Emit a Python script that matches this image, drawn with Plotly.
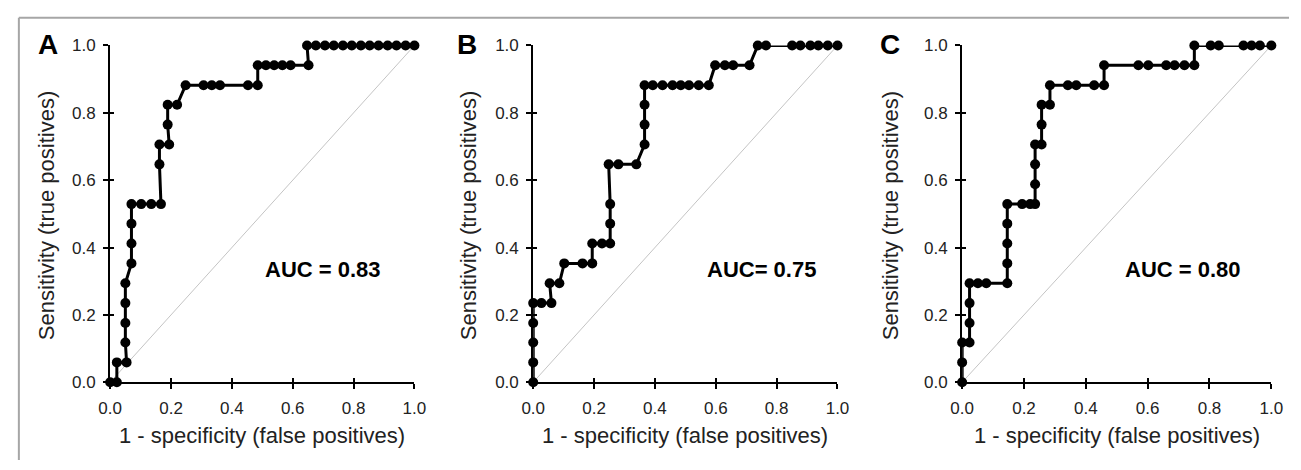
import plotly.graph_objects as go

# ---------------- data ----------------
panel_labels = ["A", "B", "C"]
auc_texts = ["AUC = 0.83", "AUC= 0.75", "AUC = 0.80"]
tick_vals = [0.0, 0.2, 0.4, 0.6, 0.8, 1.0]
tick_text = ["0.0", "0.2", "0.4", "0.6", "0.8", "1.0"]
x_title = "1 - specificity (false positives)"
y_title = "Sensitivity (true positives)"

a_fpr = [0.0, 0.022, 0.022, 0.054, 0.05, 0.05, 0.05, 0.05, 0.07, 0.07, 0.07, 0.07,
         0.102, 0.135, 0.167, 0.162, 0.162, 0.194, 0.189, 0.189, 0.22, 0.248, 0.307, 0.334,
         0.361, 0.453, 0.485, 0.485, 0.512, 0.539, 0.566, 0.593, 0.652, 0.647, 0.676, 0.706,
         0.735, 0.765, 0.794, 0.824, 0.853, 0.882, 0.912, 0.941, 0.971, 1.0]
a_tpr = [0.0, 0.0, 0.059, 0.059, 0.118, 0.176, 0.235, 0.294, 0.353, 0.412, 0.471, 0.529,
         0.529, 0.529, 0.529, 0.647, 0.706, 0.706, 0.765, 0.824, 0.824, 0.882, 0.882, 0.882,
         0.882, 0.882, 0.882, 0.941, 0.941, 0.941, 0.941, 0.941, 0.941, 1.0, 1.0, 1.0,
         1.0, 1.0, 1.0, 1.0, 1.0, 1.0, 1.0, 1.0, 1.0, 1.0]

b_fpr = [0.0, 0.0, 0.0, 0.0, 0.0, 0.027, 0.06, 0.054, 0.086, 0.102, 0.162, 0.194, 0.194,
         0.226, 0.253, 0.253, 0.253, 0.248, 0.28, 0.339, 0.366, 0.366, 0.366, 0.366, 0.393,
         0.425, 0.458, 0.485, 0.512, 0.544, 0.577, 0.598, 0.63, 0.657, 0.711, 0.738, 0.765,
         0.851, 0.878, 0.911, 0.937, 0.968, 1.0]
b_tpr = [0.0, 0.059, 0.118, 0.176, 0.235, 0.235, 0.235, 0.294, 0.294, 0.353, 0.353, 0.353,
         0.412, 0.412, 0.412, 0.471, 0.529, 0.647, 0.647, 0.647, 0.706, 0.765, 0.824, 0.882,
         0.882, 0.882, 0.882, 0.882, 0.882, 0.882, 0.882, 0.941, 0.941, 0.941, 0.941, 1.0,
         1.0, 1.0, 1.0, 1.0, 1.0, 1.0, 1.0]

c_fpr = [0.0, 0.0, 0.0, 0.024, 0.024, 0.024, 0.024, 0.051, 0.078, 0.146, 0.146, 0.146,
         0.146, 0.146, 0.194, 0.22, 0.236, 0.236, 0.236, 0.236, 0.257, 0.257, 0.257, 0.284,
         0.284, 0.342, 0.369, 0.427, 0.459, 0.459, 0.57, 0.602, 0.66, 0.687, 0.719, 0.751,
         0.751, 0.804, 0.83, 0.91, 0.936, 0.963, 1.0]
c_tpr = [0.0, 0.059, 0.118, 0.118, 0.176, 0.235, 0.294, 0.294, 0.294, 0.294, 0.353, 0.412,
         0.471, 0.529, 0.529, 0.529, 0.529, 0.588, 0.647, 0.706, 0.706, 0.765, 0.824, 0.824,
         0.882, 0.882, 0.882, 0.882, 0.882, 0.941, 0.941, 0.941, 0.941, 0.941, 0.941, 0.941,
         1.0, 1.0, 1.0, 1.0, 1.0, 1.0, 1.0]

chance_line = [0.0, 1.0]

series = [(a_fpr, a_tpr), (b_fpr, b_tpr), (c_fpr, c_tpr)]

# ---------------- layout geometry (pixels) ----------------
W, H = 1301, 470
FONT = "Liberation Sans, Arial, sans-serif"
x_px = [(100, 410), (531, 841), (968, 1283)]
y_top, y_bot = 38, 389
letter_px = [37, 464, 894]
ytitle_px = [35, 465, 895]
auc_px = [317, 764, 1193]
auc_y = 271
xtitle_y = 444

def px(x):
    return x / W

def py(y):
    return 1 - y / H

fig = go.Figure()
layout = dict(width=W, height=H, margin=dict(l=0, r=0, t=0, b=0),
              paper_bgcolor="white", plot_bgcolor="white", showlegend=False)

annotations = []
for i in range(3):
    n = i + 1
    xa = "x" if n == 1 else f"x{n}"
    ya = "y" if n == 1 else f"y{n}"
    fpr, tpr = series[i]
    fig.add_trace(go.Scatter(x=chance_line, y=chance_line, mode="lines",
                             line=dict(color="#c4c4c4", width=1),
                             xaxis=xa, yaxis=ya, hoverinfo="skip"))
    fig.add_trace(go.Scatter(x=fpr, y=tpr, mode="lines+markers",
                             line=dict(color="black", width=3),
                             marker=dict(color="black", size=10, symbol="circle"),
                             cliponaxis=False, xaxis=xa, yaxis=ya))
    dom_x = [px(x_px[i][0]), px(x_px[i][1])]
    dom_y = [py(y_bot), py(y_top)]
    common = dict(range=[0, 1], showgrid=False, zeroline=False, showline=True,
                  linecolor="black", linewidth=2, ticks="outside", ticklen=5,
                  tickwidth=1.5, tickcolor="black", tickvals=tick_vals,
                  ticktext=tick_text, tickfont=dict(family=FONT, size=17, color="#222"),
                  fixedrange=True)
    layout[f"xaxis{'' if n == 1 else n}"] = dict(common, domain=dom_x, anchor=ya,
                                                  ticklabelstandoff=4)
    layout[f"yaxis{'' if n == 1 else n}"] = dict(common, domain=dom_y, anchor=xa,
                                                  ticklabelstandoff=4)
    # inner half of the crossing ticks
    m = n + 3
    fig.add_trace(go.Scatter(x=[None], y=[None], xaxis=f"x{m}", yaxis=f"y{m}",
                             hoverinfo="skip"))
    inner = dict(range=[0, 1], showgrid=False, zeroline=False, showline=False,
                 ticks="inside", ticklen=4, tickwidth=1.5, tickcolor="black",
                 tickvals=tick_vals, showticklabels=False, fixedrange=True)
    layout[f"xaxis{m}"] = dict(inner, overlaying=xa, anchor=f"y{m}", domain=dom_x)
    layout[f"yaxis{m}"] = dict(inner, overlaying=ya, anchor=f"x{m}", domain=dom_y)

    annotations.append(dict(text=f"<b>{panel_labels[i]}</b>", x=px(letter_px[i]),
                            y=py(37), xref="paper", yref="paper", showarrow=False,
                            xanchor="center", yanchor="middle",
                            font=dict(family=FONT, size=28, color="black")))
    annotations.append(dict(text=y_title, x=px(ytitle_px[i]), y=py((y_top + y_bot) / 2 + 2),
                            xref="paper", yref="paper", showarrow=False, textangle=-90,
                            xanchor="center", yanchor="middle",
                            font=dict(family=FONT, size=22, color="#222")))
    annotations.append(dict(text=x_title, x=px(sum(x_px[i]) / 2), y=py(xtitle_y),
                            xref="paper", yref="paper", showarrow=False,
                            xanchor="center", yanchor="middle",
                            font=dict(family=FONT, size=22, color="#222")))
    annotations.append(dict(text=f"<b>{auc_texts[i]}</b>", x=px(auc_px[i]), y=py(auc_y),
                            xref="paper", yref="paper", showarrow=False,
                            xanchor="center", yanchor="middle",
                            font=dict(family=FONT, size=22, color="black")))

layout["annotations"] = annotations
layout["shapes"] = [
    dict(type="line", xref="paper", yref="paper", x0=px(7), x1=1.0, y0=py(9), y1=py(9),
         line=dict(color="#a6a6a6", width=2)),
    dict(type="line", xref="paper", yref="paper", x0=px(7), x1=px(7), y0=py(9), y1=0.0,
         line=dict(color="#a6a6a6", width=2)),
]
fig.update_layout(**layout)
fig.write_html("out.html", config={"displayModeBar": False},
               post_script="document.body.style.margin='0';document.body.style.overflow='hidden';")
